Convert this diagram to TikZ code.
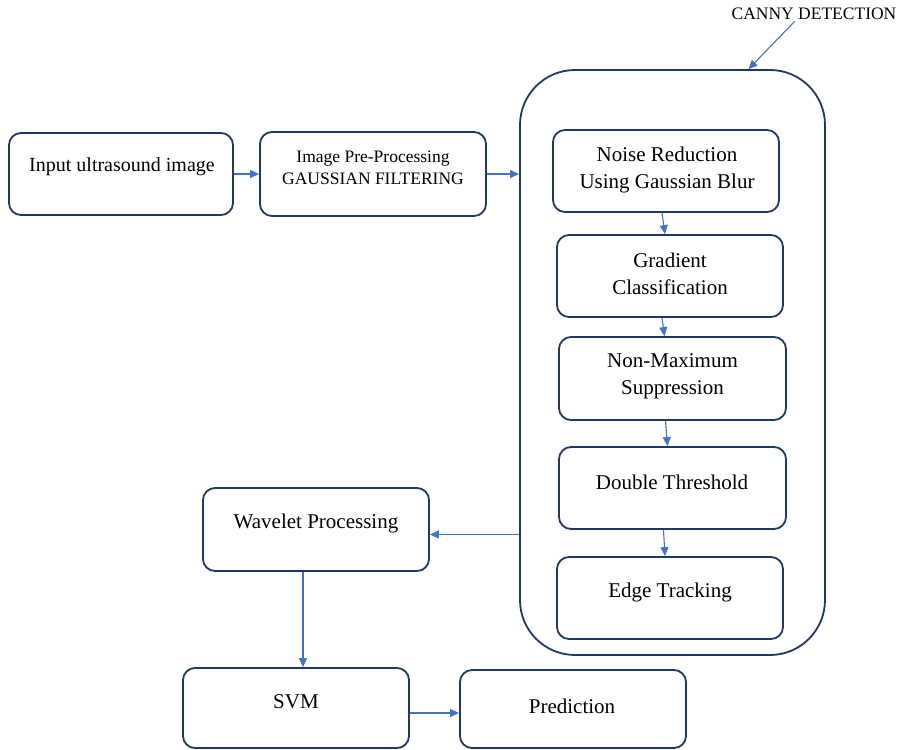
\documentclass[tikz,border=0pt]{standalone}
\usepackage{fontspec}
\setmainfont{Liberation Serif}
\usetikzlibrary{arrows.meta}
\definecolor{navy}{HTML}{1F3864}
\definecolor{arr}{HTML}{4472C4}
\tikzset{
  box/.style={draw=navy, line width=1.8pt, rounded corners=12pt, inner sep=0pt, minimum width=226pt, minimum height=82pt},
  txt/.style={inner sep=0pt, align=center, font=\fontsize{21}{27}\selectfont},
  smalltxt/.style={inner sep=0pt, align=center, font=\fontsize{17.5}{22}\selectfont},
  conn/.style={draw=arr, line width=1.1pt, -{Triangle[length=9pt,width=8pt]}}
}
\begin{document}
\begin{tikzpicture}[x=1pt,y=-1pt]
\useasboundingbox (0,0) rectangle (903,750);
% boxes
\node[box, minimum width=224pt] (in) at (121,174) {};
\node[box, minimum height=84pt] (pre) at (373,174) {};
\node[box, minimum width=305pt, minimum height=585pt, rounded corners=55pt] (big) at (672.5,362.5) {};
\node[box] (noise) at (666,171) {};
\node[box] (grad) at (670,276) {};
\node[box, minimum width=227pt, minimum height=83pt] (nms) at (672.5,378.5) {};
\node[box, minimum width=227pt] (dbl) at (672.5,488) {};
\node[box] (edge) at (670,598) {};
\node[box, minimum height=83pt] (wav) at (316,529.5) {};
\node[box, minimum height=80pt] (svm) at (296,708) {};
\node[box, minimum height=78pt] (pred) at (573,709) {};
% texts
\node[txt, font=\fontsize{20}{24}\selectfont] (tin) at (122,167) {Input ultrasound image};
\node[smalltxt] (tpre) at (373,168) {Image Pre-Processing\\GAUSSIAN FILTERING};
\node[txt] (tnoise) at (667,170) {Noise Reduction\\Using Gaussian Blur};
\node[txt] (tgrad) at (670,274) {Gradient\\Classification};
\node[txt] (tnms) at (672.5,376.5) {Non-Maximum\\Suppression};
\node[txt] (tdbl) at (672,482) {Double Threshold};
\node[txt] (tedge) at (670,592) {Edge Tracking};
\node[txt] (twav) at (316,523) {Wavelet Processing};
\node[txt] (tsvm) at (296,702) {SVM};
\node[txt] (tpred) at (572,706) {Prediction};
\node[smalltxt] (canny) at (814,14) {CANNY DETECTION};
% connectors
\draw[conn] (in.east) -- (pre.west);
\draw[conn] (pre.east) -- (big.west |- pre.east);
\draw[conn] ([xshift=-4pt]noise.south) -- ([xshift=-5pt]grad.north);
\draw[conn] ([xshift=-8pt]grad.south) -- ([xshift=-8pt]nms.north);
\draw[conn] ([xshift=-7pt]nms.south) -- ([xshift=-5pt]dbl.north);
\draw[conn] ([xshift=-9pt]dbl.south) -- ([xshift=-5pt]edge.north);
\draw[conn] ([yshift=-5pt]big.west |- wav.east) -- ([yshift=-5pt]wav.east);
\draw[conn] ([xshift=-13pt]wav.south) -- ([xshift=7pt]svm.north);
\draw[conn] ([yshift=-5pt]svm.east) -- ([yshift=-5pt]svm.east -| pred.west);
\draw[conn] ([xshift=-19pt,yshift=-1pt]canny.south) -- ([xshift=76pt]big.north);
\end{tikzpicture}
\end{document}
